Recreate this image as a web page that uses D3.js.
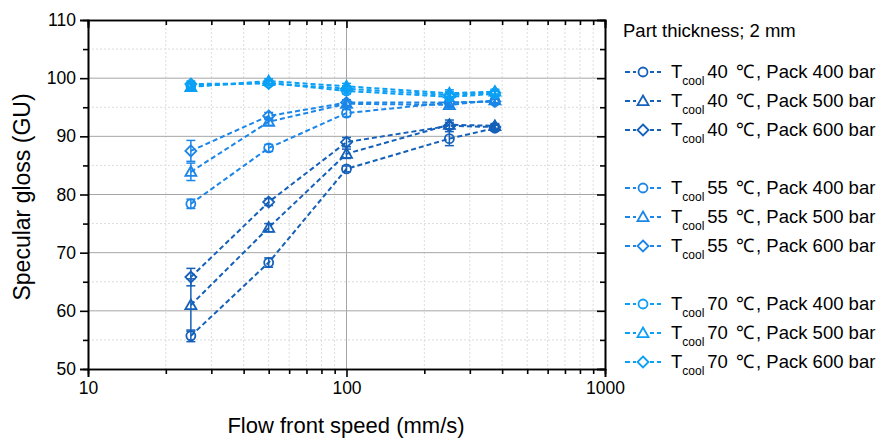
<!DOCTYPE html>
<html><head><meta charset="utf-8">
<script src="https://cdn.jsdelivr.net/npm/d3@7"></script>
<style>body{margin:0;background:#fff}svg{font-family:"Liberation Sans",Arial,sans-serif}</style>
</head><body>
<svg id="c" width="878" height="441"></svg>
<script>
const speeds = [25, 50, 100, 250, 375];
const t40p400 = [55.7, 68.3, 84.4, 89.6, 91.4];
const t40p500 = [61.0, 74.3, 87.0, 92.0, 91.8];
const t40p600 = [65.8, 78.7, 89.0, 91.8, 91.6];
const t55p400 = [78.4, 88.0, 94.0, 95.8, 96.0];
const t55p500 = [83.9, 92.5, 95.6, 95.4, 96.2];
const t55p600 = [87.5, 93.5, 95.8, 95.8, 96.0];
const t70p400 = [98.7, 99.2, 97.8, 96.8, 97.3];
const t70p500 = [98.5, 99.5, 98.6, 97.4, 97.7];
const t70p600 = [99.0, 99.1, 98.2, 97.1, 97.5];
const e40p400 = [1.0, 0.8, 0.5, 1.2, 0.5];
const e40p500 = [4.5, 0.7, 0.8, 0.8, 0.4];
const e40p600 = [1.5, 0.6, 0.8, 0.6, 0.4];
const e55p400 = [0.8, 0.6, 0.6, 0.8, 0.4];
const e55p500 = [1.5, 0.6, 0.5, 0.7, 0.4];
const e55p600 = [1.8, 0.6, 0.5, 0.6, 0.4];
const e70p400 = [0.5, 0.4, 0.5, 0.6, 0.4];
const e70p500 = [0.5, 0.4, 0.5, 0.6, 0.4];
const e70p600 = [0.5, 0.4, 0.5, 0.6, 0.4];
const yTicks = [50, 60, 70, 80, 90, 100, 110];
const xTicks = [10, 100, 1000];
const temps = ["40", "55", "70"];
const packs = ["400", "500", "600"];
const colors = {"40": "#1560b8", "55": "#1b86e8", "70": "#0ba0f5"};
const shapes = {"400": "circle", "500": "triangle", "600": "diamond"};

const series = [
  {t:"40", p:"400", v:t40p400, e:e40p400},
  {t:"40", p:"500", v:t40p500, e:e40p500},
  {t:"40", p:"600", v:t40p600, e:e40p600},
  {t:"55", p:"400", v:t55p400, e:e55p400},
  {t:"55", p:"500", v:t55p500, e:e55p500},
  {t:"55", p:"600", v:t55p600, e:e55p600},
  {t:"70", p:"400", v:t70p400, e:e70p400},
  {t:"70", p:"500", v:t70p500, e:e70p500},
  {t:"70", p:"600", v:t70p600, e:e70p600}
];

const svg = d3.select("#c");
const L = 88, R = 605, T = 20, B = 369;
const x = d3.scaleLog().domain([10, 1000]).range([L, R]);
const y = d3.scaleLinear().domain([50, 110]).range([B, T]);

const xMinor = [];
[10, 100].forEach(d => { for (let k = 2; k <= 9; k++) xMinor.push(d * k); });
const yMinor = [55, 65, 75, 85, 95, 105];

const grid = svg.append("g");
grid.selectAll(".xm").data(xMinor).join("line")
  .attr("x1", d => x(d)).attr("x2", d => x(d)).attr("y1", T).attr("y2", B)
  .attr("stroke", "#dcdcdc").attr("stroke-width", 1).attr("stroke-dasharray", "2,2");
grid.selectAll(".ym").data(yMinor).join("line")
  .attr("x1", L).attr("x2", R).attr("y1", d => y(d)).attr("y2", d => y(d))
  .attr("stroke", "#dcdcdc").attr("stroke-width", 1).attr("stroke-dasharray", "2,2");
grid.selectAll(".yM").data(yTicks.slice(1, -1)).join("line")
  .attr("x1", L).attr("x2", R).attr("y1", d => y(d)).attr("y2", d => y(d))
  .attr("stroke", "#a6a6a6").attr("stroke-width", 1);
grid.selectAll(".xM").data([100]).join("line")
  .attr("x1", d => x(d)).attr("x2", d => x(d)).attr("y1", T).attr("y2", B)
  .attr("stroke", "#a6a6a6").attr("stroke-width", 1);

const fmt = d3.format("d");
const axL = svg.append("g").attr("transform", `translate(${L},0)`)
  .call(d3.axisLeft(y).tickValues(yTicks).tickSize(8).tickPadding(4).tickFormat(fmt));
const axLm = svg.append("g").attr("transform", `translate(${L},0)`)
  .call(d3.axisLeft(y).tickValues(yMinor).tickSize(5).tickFormat(""));
const axB = svg.append("g").attr("transform", `translate(0,${B})`)
  .call(d3.axisBottom(x).tickValues(xTicks).tickSize(8).tickPadding(5).tickFormat(fmt));
const axBm = svg.append("g").attr("transform", `translate(0,${B})`)
  .call(d3.axisBottom(x).tickValues(xMinor).tickSize(5).tickFormat(""));
const axR = svg.append("g").attr("transform", `translate(${R},0)`)
  .call(d3.axisLeft(y).tickValues(yTicks).tickSize(8).tickFormat(""));
const axRm = svg.append("g").attr("transform", `translate(${R},0)`)
  .call(d3.axisLeft(y).tickValues(yMinor).tickSize(5).tickFormat(""));
const axT = svg.append("g").attr("transform", `translate(0,${T})`)
  .call(d3.axisBottom(x).tickValues(xTicks).tickSize(8).tickFormat(""));
const axTm = svg.append("g").attr("transform", `translate(0,${T})`)
  .call(d3.axisBottom(x).tickValues(xMinor).tickSize(5).tickFormat(""));
[axL, axLm, axB, axBm, axR, axRm, axT, axTm].forEach(g => {
  g.selectAll("path").attr("stroke", "#000").attr("stroke-width", 1.6);
  g.selectAll("line").attr("stroke", "#000").attr("stroke-width", 1.6);
  g.selectAll("text").attr("font-size", 17.5).attr("fill", "#000")
    .attr("font-family", '"Liberation Sans",Arial,sans-serif');
});

function markerPath(shape, cx, cy) {
  if (shape === "circle") {
    const r = 4.5;
    return `M${cx - r},${cy}a${r},${r} 0 1,0 ${2 * r},0a${r},${r} 0 1,0 ${-2 * r},0Z`;
  }
  if (shape === "triangle") {
    const s = 5.5;
    return `M${cx},${cy - s}L${cx + s},${cy + s * 0.75}L${cx - s},${cy + s * 0.75}Z`;
  }
  const s = 5.5;
  return `M${cx},${cy - s}L${cx + s},${cy}L${cx},${cy + s}L${cx - s},${cy}Z`;
}

const line = d3.line().x(d => x(d[0])).y(d => y(d[1]));
const plot = svg.append("g");
series.forEach(s => {
  const c = colors[s.t];
  const pts = speeds.map((sp, i) => [sp, s.v[i], s.e[i]]);
  plot.append("path").attr("d", line(pts)).attr("fill", "none")
    .attr("stroke", c).attr("stroke-width", 2).attr("stroke-dasharray", "5,3");
  const g = plot.append("g");
  pts.forEach(p => {
    const px = x(p[0]);
    g.append("line").attr("x1", px).attr("x2", px)
      .attr("y1", y(p[1] - p[2])).attr("y2", y(p[1] + p[2]))
      .attr("stroke", c).attr("stroke-width", 1.5);
    [p[1] - p[2], p[1] + p[2]].forEach(v => {
      g.append("line").attr("x1", px - 4.5).attr("x2", px + 4.5)
        .attr("y1", y(v)).attr("y2", y(v)).attr("stroke", c).attr("stroke-width", 1.5);
    });
    g.append("path").attr("d", markerPath(shapes[s.p], px, y(p[1])))
      .attr("fill", "none").attr("stroke", c).attr("stroke-width", 1.8);
  });
});

svg.append("text").attr("x", 346).attr("y", 433).attr("text-anchor", "middle")
  .attr("font-size", 22).text("Flow front speed (mm/s)");
svg.append("text").attr("transform", "translate(30,197) rotate(-90)")
  .attr("text-anchor", "middle").attr("font-size", 23).text("Specular gloss (GU)");

const leg = svg.append("g");
leg.append("text").attr("x", 623).attr("y", 37).attr("font-size", 18.5).text("Part thickness; 2 mm");
const rowY = [72, 101, 130, 188, 217, 246, 304, 333, 362];
let k = 0;
temps.forEach(t => {
  packs.forEach(p => {
    const ry = rowY[k++];
    const c = colors[t];
    leg.append("line").attr("x1", 625).attr("x2", 661).attr("y1", ry).attr("y2", ry)
      .attr("stroke", c).attr("stroke-width", 2).attr("stroke-dasharray", "5,3");
    leg.append("rect").attr("x", 636).attr("y", ry - 7).attr("width", 14).attr("height", 14).attr("fill", "#fff");
    leg.append("path").attr("d", markerPath(shapes[p], 643, ry))
      .attr("fill", "none").attr("stroke", c).attr("stroke-width", 1.8);
    const tx = leg.append("text").attr("x", 671).attr("y", ry + 6).attr("font-size", 18.5);
    tx.append("tspan").text("T");
    tx.append("tspan").attr("font-size", 12).attr("dy", 7).text("cool");
    tx.append("tspan").attr("dy", -7).attr("dx", 3).text(t + " ");
    tx.append("tspan").attr("dx", 3).text("\u2103");
    tx.append("tspan").attr("dx", 2).text(", Pack " + p + " bar");
  });
});
</script>
</body></html>
